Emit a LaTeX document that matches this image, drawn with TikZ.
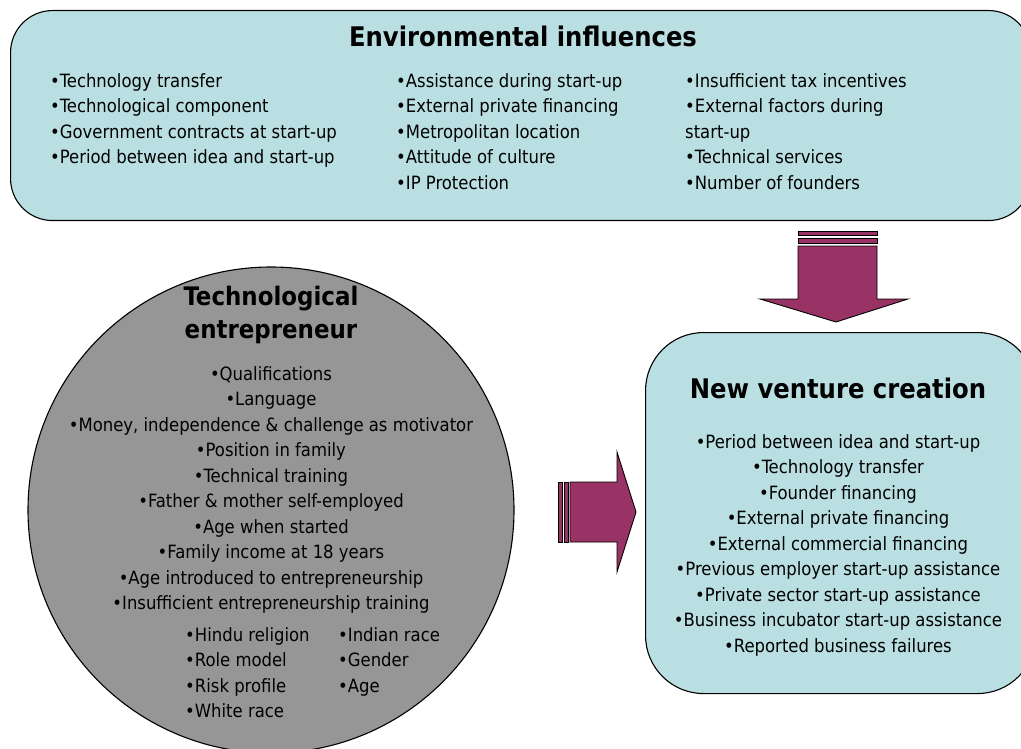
\documentclass[tikz,border=0pt]{standalone}
\usepackage{fontspec}
\setmainfont{DejaVu Sans Condensed}
\usetikzlibrary{arrows.meta}

\definecolor{panelblue}{RGB}{186,223,226}
\definecolor{persongray}{RGB}{150,150,150}
\definecolor{arrowplum}{RGB}{153,51,102}
\newcommand\itemfont{\fontsize{18.3}{25.5}\selectfont}
\newcommand\headfont{\fontsize{27}{34}\selectfont\bfseries}

\begin{document}
\begin{tikzpicture}[x=1pt,y=-1pt,
  every node/.style={font=\itemfont,inner sep=0pt},
  panel/.style={draw,line width=1.1pt,fill=panelblue},
  person/.style={draw,line width=1.1pt,fill=persongray,circle},
  head/.style={font=\headfont,align=center},
  items/.style={align=left,anchor=north west},
  centred/.style={align=center,anchor=north},
  blockarrow/.style={draw,line width=0.9pt,fill=arrowplum}]
  \useasboundingbox (0,0) rectangle (1021,749);
  \fill[white] (0,0) rectangle (1021,749);

  % the three panels
  \node[panel,rounded corners=42pt,anchor=north west,
    minimum width=1020pt,minimum height=210pt] (env) at (10,10) {};
  \node[person,minimum size=486pt] (ent) at (271,510) {};
  \node[panel,rounded corners=58pt,anchor=north west,
    minimum width=390pt,minimum height=361pt] (nvc) at (645,332) {};

  % environment
  \node[head] (envtitle) at (523,36) {Environmental influences};
  \node[items] (envA) at (50,73) {\textbullet Technology transfer\\
    \textbullet Technological component\\
    \textbullet Government contracts at start-up\\
    \textbullet Period between idea and start-up};
  \node[items] (envB) at (396,73) {\textbullet Assistance during start-up\\
    \textbullet External private financing\\
    \textbullet Metropolitan location\\
    \textbullet Attitude of culture\\
    \textbullet IP Protection};
  \node[items] (envC) at (685,73) {\textbullet Insufficient tax incentives\\
    \textbullet External factors during\\
    start-up\\
    \textbullet Technical services\\
    \textbullet Number of founders};

  % entrepreneur
  \node[head,anchor=north,font=\fontsize{25.5}{33}\selectfont\bfseries]
    (enttitle) at (271,286) {Technological\\entrepreneur};
  \node[centred] (entlist) at (271,366) {\textbullet Qualifications\\
    \textbullet Language\\
    \textbullet Money, independence \& challenge as motivator\\
    \textbullet Position in family\\
    \textbullet Technical training\\
    \textbullet Father \& mother self-employed\\
    \textbullet Age when started\\
    \textbullet Family income at 18 years\\
    \textbullet Age introduced to entrepreneurship\\
    \textbullet Insufficient entrepreneurship training};
  \node[items] (entA) at (185,627) {\textbullet Hindu religion\\
    \textbullet Role model\\
    \textbullet Risk profile\\
    \textbullet White race};
  \node[items] (entB) at (338,627) {\textbullet Indian race\\
    \textbullet Gender\\
    \textbullet Age};

  % new venture creation
  \node[head] (nvctitle) at (838,388) {New venture creation};
  \node[centred] (nvclist) at (838,434) {\textbullet Period between idea and start-up\\
    \textbullet Technology transfer\\
    \textbullet Founder financing\\
    \textbullet External private financing\\
    \textbullet External commercial financing\\
    \textbullet Previous employer start-up assistance\\
    \textbullet Private sector start-up assistance\\
    \textbullet Business incubator start-up assistance\\
    \textbullet Reported business failures};

  % striped block arrows
  \draw[blockarrow] (798,231) rectangle (877,235);
  \draw[blockarrow] (798,238) rectangle (877,243);
  \draw[blockarrow] (798,246) -- (798,299) -- (760,299) -- (836,322)
    -- (908,299) -- (877,299) -- (877,246) -- cycle;
  \draw[blockarrow] (558,482) rectangle (562,542);
  \draw[blockarrow] (564,482) rectangle (568,542);
  \draw[blockarrow] (570,482) -- (617,482) -- (617,452) -- (636,512)
    -- (617,572) -- (617,542) -- (570,542) -- cycle;
\end{tikzpicture}
\end{document}
